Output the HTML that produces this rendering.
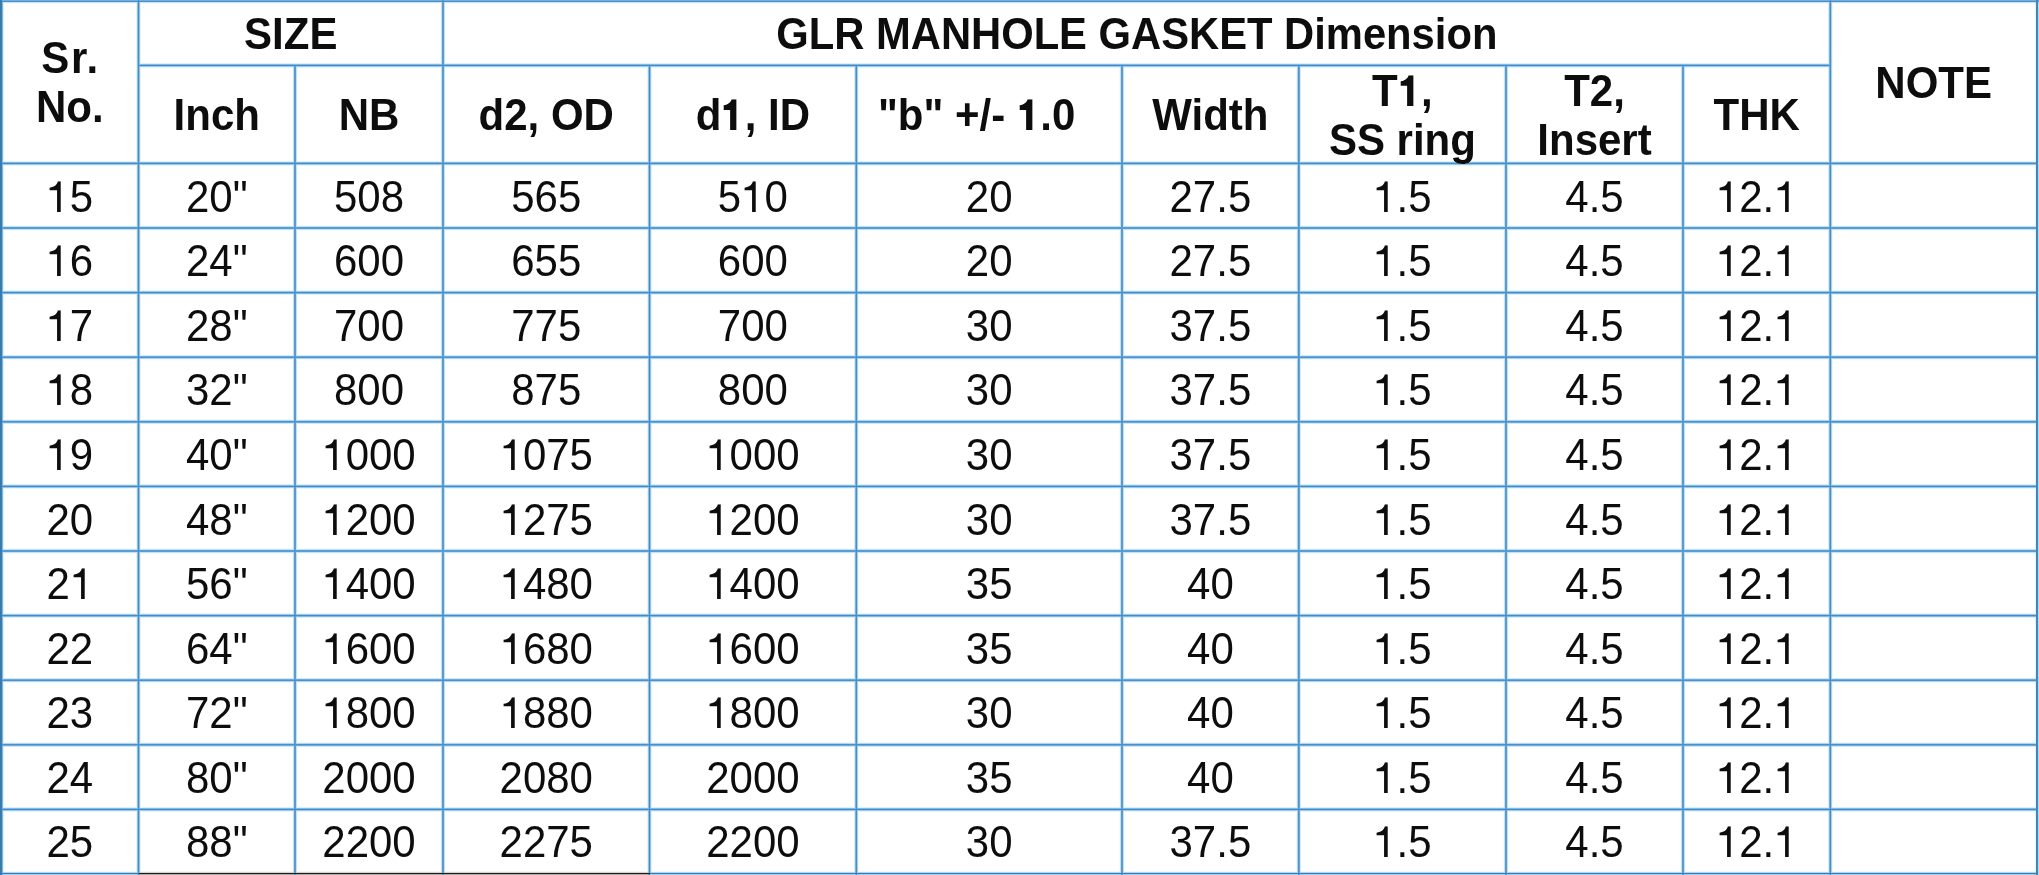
<!DOCTYPE html>
<html><head><meta charset="utf-8"><title>GLR Manhole Gasket Dimension</title><style>
html,body{margin:0;padding:0;background:#fff;}
body{width:2039px;height:875px;position:relative;overflow:hidden;font-family:"Liberation Sans",sans-serif;color:#0d0d0d;}
i{position:absolute;display:block;mix-blend-mode:darken;}
.c{position:absolute;display:flex;align-items:center;justify-content:center;text-align:center;font-size:42px;line-height:1;white-space:nowrap;}
.c span{display:block;transform:scaleY(1.045);}
.b{font-weight:bold;}
.o{width:0.55615em;height:0.7em;vertical-align:-0.012em;fill:currentColor;overflow:visible;}
.two{line-height:47px;}
.c span.sr{display:inline;transform:none;letter-spacing:1.6px;margin-right:-1.6px;}
.glr span{transform:scale(0.9937,1.045);}
</style></head><body>
<svg width="0" height="0" style="position:absolute"><defs>
<path id="p-one-r" d="M540 1409L718 1409L718 0L578 0C545 140 420 275 175 290L175 405L540 405Z"/>
<path id="p-one-b" d="M445 1409L750 1409L750 0L520 0C480 125 360 254 132 269L132 484L445 484Z"/>
<symbol id="one-r" viewBox="0 0 1139 1409" preserveAspectRatio="none"><use href="#p-one-r"/></symbol>
<symbol id="one-b" viewBox="0 0 1139 1409" preserveAspectRatio="none"><use href="#p-one-b"/></symbol>
</defs></svg>
<div class="c b two" style="left:1.1px;top:0.9px;width:137.4px;height:162.5px"><span><span class="sr">Sr.</span><br>No.</span></div>
<div class="c b" style="left:138.5px;top:1.3px;width:304.5px;height:64.5px"><span>SIZE</span></div>
<div class="c b glr" style="left:443.0px;top:1.3px;width:1387.3px;height:64.5px"><span>GLR MANHOLE GASKET Dimension</span></div>
<div class="c b" style="left:1830.3px;top:1.9px;width:206.8px;height:162.5px"><span>NOTE</span></div>
<div class="c b" style="left:138.5px;top:66.4px;width:156.5px;height:98.0px"><span>Inch</span></div>
<div class="c b" style="left:295.0px;top:66.4px;width:148.0px;height:98.0px"><span>NB</span></div>
<div class="c b" style="left:443.0px;top:66.4px;width:206.5px;height:98.0px"><span>d2, OD</span></div>
<div class="c b" style="left:649.5px;top:66.4px;width:206.8px;height:98.0px"><span>d<svg class="o"><use href="#one-b"/></svg>, ID</span></div>
<div class="c b" style="left:843.8px;top:66.4px;width:265.7px;height:98.0px"><span>"b" +/- <svg class="o"><use href="#one-b"/></svg>.0</span></div>
<div class="c b" style="left:1122.0px;top:66.4px;width:176.8px;height:98.0px"><span>Width</span></div>
<div class="c b two" style="left:1298.8px;top:66.4px;width:207.2px;height:98.0px"><span>T<svg class="o"><use href="#one-b"/></svg>,<br>SS ring</span></div>
<div class="c b two" style="left:1506.0px;top:66.4px;width:177.0px;height:98.0px"><span>T2,<br>Insert</span></div>
<div class="c b" style="left:1683.0px;top:66.4px;width:147.3px;height:98.0px"><span>THK</span></div>
<div class="c" style="left:1.1px;top:164.4px;width:137.4px;height:64.6px"><span><svg class="o"><use href="#one-r"/></svg>5</span></div>
<div class="c" style="left:138.5px;top:164.4px;width:156.5px;height:64.6px"><span>20"</span></div>
<div class="c" style="left:295.0px;top:164.4px;width:148.0px;height:64.6px"><span>508</span></div>
<div class="c" style="left:443.0px;top:164.4px;width:206.5px;height:64.6px"><span>565</span></div>
<div class="c" style="left:649.5px;top:164.4px;width:206.8px;height:64.6px"><span>5<svg class="o"><use href="#one-r"/></svg>0</span></div>
<div class="c" style="left:856.3px;top:164.4px;width:265.7px;height:64.6px"><span>20</span></div>
<div class="c" style="left:1122.0px;top:164.4px;width:176.8px;height:64.6px"><span>27.5</span></div>
<div class="c" style="left:1298.8px;top:164.4px;width:207.2px;height:64.6px"><span><svg class="o"><use href="#one-r"/></svg>.5</span></div>
<div class="c" style="left:1506.0px;top:164.4px;width:177.0px;height:64.6px"><span>4.5</span></div>
<div class="c" style="left:1683.0px;top:164.4px;width:147.3px;height:64.6px"><span><svg class="o"><use href="#one-r"/></svg>2.<svg class="o"><use href="#one-r"/></svg></span></div>
<div class="c" style="left:1.1px;top:229.0px;width:137.4px;height:64.6px"><span><svg class="o"><use href="#one-r"/></svg>6</span></div>
<div class="c" style="left:138.5px;top:229.0px;width:156.5px;height:64.6px"><span>24"</span></div>
<div class="c" style="left:295.0px;top:229.0px;width:148.0px;height:64.6px"><span>600</span></div>
<div class="c" style="left:443.0px;top:229.0px;width:206.5px;height:64.6px"><span>655</span></div>
<div class="c" style="left:649.5px;top:229.0px;width:206.8px;height:64.6px"><span>600</span></div>
<div class="c" style="left:856.3px;top:229.0px;width:265.7px;height:64.6px"><span>20</span></div>
<div class="c" style="left:1122.0px;top:229.0px;width:176.8px;height:64.6px"><span>27.5</span></div>
<div class="c" style="left:1298.8px;top:229.0px;width:207.2px;height:64.6px"><span><svg class="o"><use href="#one-r"/></svg>.5</span></div>
<div class="c" style="left:1506.0px;top:229.0px;width:177.0px;height:64.6px"><span>4.5</span></div>
<div class="c" style="left:1683.0px;top:229.0px;width:147.3px;height:64.6px"><span><svg class="o"><use href="#one-r"/></svg>2.<svg class="o"><use href="#one-r"/></svg></span></div>
<div class="c" style="left:1.1px;top:293.6px;width:137.4px;height:64.6px"><span><svg class="o"><use href="#one-r"/></svg>7</span></div>
<div class="c" style="left:138.5px;top:293.6px;width:156.5px;height:64.6px"><span>28"</span></div>
<div class="c" style="left:295.0px;top:293.6px;width:148.0px;height:64.6px"><span>700</span></div>
<div class="c" style="left:443.0px;top:293.6px;width:206.5px;height:64.6px"><span>775</span></div>
<div class="c" style="left:649.5px;top:293.6px;width:206.8px;height:64.6px"><span>700</span></div>
<div class="c" style="left:856.3px;top:293.6px;width:265.7px;height:64.6px"><span>30</span></div>
<div class="c" style="left:1122.0px;top:293.6px;width:176.8px;height:64.6px"><span>37.5</span></div>
<div class="c" style="left:1298.8px;top:293.6px;width:207.2px;height:64.6px"><span><svg class="o"><use href="#one-r"/></svg>.5</span></div>
<div class="c" style="left:1506.0px;top:293.6px;width:177.0px;height:64.6px"><span>4.5</span></div>
<div class="c" style="left:1683.0px;top:293.6px;width:147.3px;height:64.6px"><span><svg class="o"><use href="#one-r"/></svg>2.<svg class="o"><use href="#one-r"/></svg></span></div>
<div class="c" style="left:1.1px;top:358.2px;width:137.4px;height:64.6px"><span><svg class="o"><use href="#one-r"/></svg>8</span></div>
<div class="c" style="left:138.5px;top:358.2px;width:156.5px;height:64.6px"><span>32"</span></div>
<div class="c" style="left:295.0px;top:358.2px;width:148.0px;height:64.6px"><span>800</span></div>
<div class="c" style="left:443.0px;top:358.2px;width:206.5px;height:64.6px"><span>875</span></div>
<div class="c" style="left:649.5px;top:358.2px;width:206.8px;height:64.6px"><span>800</span></div>
<div class="c" style="left:856.3px;top:358.2px;width:265.7px;height:64.6px"><span>30</span></div>
<div class="c" style="left:1122.0px;top:358.2px;width:176.8px;height:64.6px"><span>37.5</span></div>
<div class="c" style="left:1298.8px;top:358.2px;width:207.2px;height:64.6px"><span><svg class="o"><use href="#one-r"/></svg>.5</span></div>
<div class="c" style="left:1506.0px;top:358.2px;width:177.0px;height:64.6px"><span>4.5</span></div>
<div class="c" style="left:1683.0px;top:358.2px;width:147.3px;height:64.6px"><span><svg class="o"><use href="#one-r"/></svg>2.<svg class="o"><use href="#one-r"/></svg></span></div>
<div class="c" style="left:1.1px;top:422.8px;width:137.4px;height:64.6px"><span><svg class="o"><use href="#one-r"/></svg>9</span></div>
<div class="c" style="left:138.5px;top:422.8px;width:156.5px;height:64.6px"><span>40"</span></div>
<div class="c" style="left:295.0px;top:422.8px;width:148.0px;height:64.6px"><span><svg class="o"><use href="#one-r"/></svg>000</span></div>
<div class="c" style="left:443.0px;top:422.8px;width:206.5px;height:64.6px"><span><svg class="o"><use href="#one-r"/></svg>075</span></div>
<div class="c" style="left:649.5px;top:422.8px;width:206.8px;height:64.6px"><span><svg class="o"><use href="#one-r"/></svg>000</span></div>
<div class="c" style="left:856.3px;top:422.8px;width:265.7px;height:64.6px"><span>30</span></div>
<div class="c" style="left:1122.0px;top:422.8px;width:176.8px;height:64.6px"><span>37.5</span></div>
<div class="c" style="left:1298.8px;top:422.8px;width:207.2px;height:64.6px"><span><svg class="o"><use href="#one-r"/></svg>.5</span></div>
<div class="c" style="left:1506.0px;top:422.8px;width:177.0px;height:64.6px"><span>4.5</span></div>
<div class="c" style="left:1683.0px;top:422.8px;width:147.3px;height:64.6px"><span><svg class="o"><use href="#one-r"/></svg>2.<svg class="o"><use href="#one-r"/></svg></span></div>
<div class="c" style="left:1.1px;top:487.4px;width:137.4px;height:64.6px"><span>20</span></div>
<div class="c" style="left:138.5px;top:487.4px;width:156.5px;height:64.6px"><span>48"</span></div>
<div class="c" style="left:295.0px;top:487.4px;width:148.0px;height:64.6px"><span><svg class="o"><use href="#one-r"/></svg>200</span></div>
<div class="c" style="left:443.0px;top:487.4px;width:206.5px;height:64.6px"><span><svg class="o"><use href="#one-r"/></svg>275</span></div>
<div class="c" style="left:649.5px;top:487.4px;width:206.8px;height:64.6px"><span><svg class="o"><use href="#one-r"/></svg>200</span></div>
<div class="c" style="left:856.3px;top:487.4px;width:265.7px;height:64.6px"><span>30</span></div>
<div class="c" style="left:1122.0px;top:487.4px;width:176.8px;height:64.6px"><span>37.5</span></div>
<div class="c" style="left:1298.8px;top:487.4px;width:207.2px;height:64.6px"><span><svg class="o"><use href="#one-r"/></svg>.5</span></div>
<div class="c" style="left:1506.0px;top:487.4px;width:177.0px;height:64.6px"><span>4.5</span></div>
<div class="c" style="left:1683.0px;top:487.4px;width:147.3px;height:64.6px"><span><svg class="o"><use href="#one-r"/></svg>2.<svg class="o"><use href="#one-r"/></svg></span></div>
<div class="c" style="left:1.1px;top:552.0px;width:137.4px;height:64.6px"><span>2<svg class="o"><use href="#one-r"/></svg></span></div>
<div class="c" style="left:138.5px;top:552.0px;width:156.5px;height:64.6px"><span>56"</span></div>
<div class="c" style="left:295.0px;top:552.0px;width:148.0px;height:64.6px"><span><svg class="o"><use href="#one-r"/></svg>400</span></div>
<div class="c" style="left:443.0px;top:552.0px;width:206.5px;height:64.6px"><span><svg class="o"><use href="#one-r"/></svg>480</span></div>
<div class="c" style="left:649.5px;top:552.0px;width:206.8px;height:64.6px"><span><svg class="o"><use href="#one-r"/></svg>400</span></div>
<div class="c" style="left:856.3px;top:552.0px;width:265.7px;height:64.6px"><span>35</span></div>
<div class="c" style="left:1122.0px;top:552.0px;width:176.8px;height:64.6px"><span>40</span></div>
<div class="c" style="left:1298.8px;top:552.0px;width:207.2px;height:64.6px"><span><svg class="o"><use href="#one-r"/></svg>.5</span></div>
<div class="c" style="left:1506.0px;top:552.0px;width:177.0px;height:64.6px"><span>4.5</span></div>
<div class="c" style="left:1683.0px;top:552.0px;width:147.3px;height:64.6px"><span><svg class="o"><use href="#one-r"/></svg>2.<svg class="o"><use href="#one-r"/></svg></span></div>
<div class="c" style="left:1.1px;top:616.6px;width:137.4px;height:64.6px"><span>22</span></div>
<div class="c" style="left:138.5px;top:616.6px;width:156.5px;height:64.6px"><span>64"</span></div>
<div class="c" style="left:295.0px;top:616.6px;width:148.0px;height:64.6px"><span><svg class="o"><use href="#one-r"/></svg>600</span></div>
<div class="c" style="left:443.0px;top:616.6px;width:206.5px;height:64.6px"><span><svg class="o"><use href="#one-r"/></svg>680</span></div>
<div class="c" style="left:649.5px;top:616.6px;width:206.8px;height:64.6px"><span><svg class="o"><use href="#one-r"/></svg>600</span></div>
<div class="c" style="left:856.3px;top:616.6px;width:265.7px;height:64.6px"><span>35</span></div>
<div class="c" style="left:1122.0px;top:616.6px;width:176.8px;height:64.6px"><span>40</span></div>
<div class="c" style="left:1298.8px;top:616.6px;width:207.2px;height:64.6px"><span><svg class="o"><use href="#one-r"/></svg>.5</span></div>
<div class="c" style="left:1506.0px;top:616.6px;width:177.0px;height:64.6px"><span>4.5</span></div>
<div class="c" style="left:1683.0px;top:616.6px;width:147.3px;height:64.6px"><span><svg class="o"><use href="#one-r"/></svg>2.<svg class="o"><use href="#one-r"/></svg></span></div>
<div class="c" style="left:1.1px;top:681.2px;width:137.4px;height:64.6px"><span>23</span></div>
<div class="c" style="left:138.5px;top:681.2px;width:156.5px;height:64.6px"><span>72"</span></div>
<div class="c" style="left:295.0px;top:681.2px;width:148.0px;height:64.6px"><span><svg class="o"><use href="#one-r"/></svg>800</span></div>
<div class="c" style="left:443.0px;top:681.2px;width:206.5px;height:64.6px"><span><svg class="o"><use href="#one-r"/></svg>880</span></div>
<div class="c" style="left:649.5px;top:681.2px;width:206.8px;height:64.6px"><span><svg class="o"><use href="#one-r"/></svg>800</span></div>
<div class="c" style="left:856.3px;top:681.2px;width:265.7px;height:64.6px"><span>30</span></div>
<div class="c" style="left:1122.0px;top:681.2px;width:176.8px;height:64.6px"><span>40</span></div>
<div class="c" style="left:1298.8px;top:681.2px;width:207.2px;height:64.6px"><span><svg class="o"><use href="#one-r"/></svg>.5</span></div>
<div class="c" style="left:1506.0px;top:681.2px;width:177.0px;height:64.6px"><span>4.5</span></div>
<div class="c" style="left:1683.0px;top:681.2px;width:147.3px;height:64.6px"><span><svg class="o"><use href="#one-r"/></svg>2.<svg class="o"><use href="#one-r"/></svg></span></div>
<div class="c" style="left:1.1px;top:745.8px;width:137.4px;height:64.6px"><span>24</span></div>
<div class="c" style="left:138.5px;top:745.8px;width:156.5px;height:64.6px"><span>80"</span></div>
<div class="c" style="left:295.0px;top:745.8px;width:148.0px;height:64.6px"><span>2000</span></div>
<div class="c" style="left:443.0px;top:745.8px;width:206.5px;height:64.6px"><span>2080</span></div>
<div class="c" style="left:649.5px;top:745.8px;width:206.8px;height:64.6px"><span>2000</span></div>
<div class="c" style="left:856.3px;top:745.8px;width:265.7px;height:64.6px"><span>35</span></div>
<div class="c" style="left:1122.0px;top:745.8px;width:176.8px;height:64.6px"><span>40</span></div>
<div class="c" style="left:1298.8px;top:745.8px;width:207.2px;height:64.6px"><span><svg class="o"><use href="#one-r"/></svg>.5</span></div>
<div class="c" style="left:1506.0px;top:745.8px;width:177.0px;height:64.6px"><span>4.5</span></div>
<div class="c" style="left:1683.0px;top:745.8px;width:147.3px;height:64.6px"><span><svg class="o"><use href="#one-r"/></svg>2.<svg class="o"><use href="#one-r"/></svg></span></div>
<div class="c" style="left:1.1px;top:810.4px;width:137.4px;height:64.1px"><span>25</span></div>
<div class="c" style="left:138.5px;top:810.4px;width:156.5px;height:64.1px"><span>88"</span></div>
<div class="c" style="left:295.0px;top:810.4px;width:148.0px;height:64.1px"><span>2200</span></div>
<div class="c" style="left:443.0px;top:810.4px;width:206.5px;height:64.1px"><span>2275</span></div>
<div class="c" style="left:649.5px;top:810.4px;width:206.8px;height:64.1px"><span>2200</span></div>
<div class="c" style="left:856.3px;top:810.4px;width:265.7px;height:64.1px"><span>30</span></div>
<div class="c" style="left:1122.0px;top:810.4px;width:176.8px;height:64.1px"><span>37.5</span></div>
<div class="c" style="left:1298.8px;top:810.4px;width:207.2px;height:64.1px"><span><svg class="o"><use href="#one-r"/></svg>.5</span></div>
<div class="c" style="left:1506.0px;top:810.4px;width:177.0px;height:64.1px"><span>4.5</span></div>
<div class="c" style="left:1683.0px;top:810.4px;width:147.3px;height:64.1px"><span><svg class="o"><use href="#one-r"/></svg>2.<svg class="o"><use href="#one-r"/></svg></span></div>
<i style="left:0px;top:0px;width:2039px;height:1px;background:#70b0e0"></i><i style="left:0px;top:1px;width:2039px;height:1px;background:#508cc3"></i><i style="left:0px;top:2px;width:2039px;height:1px;background:#c8e8fa"></i><i style="left:0px;top:3px;width:2039px;height:1px;background:#f0faff"></i><i style="left:138px;top:63px;width:1692px;height:1px;background:#dff0fa"></i><i style="left:138px;top:64px;width:1692px;height:1px;background:#7fbae5"></i><i style="left:138px;top:65px;width:1692px;height:1px;background:#458bca"></i><i style="left:138px;top:66px;width:1692px;height:1px;background:#94ccef"></i><i style="left:138px;top:67px;width:1692px;height:1px;background:#e9f5fc"></i><i style="left:0px;top:161px;width:2038px;height:1px;background:#dff0fa"></i><i style="left:0px;top:162px;width:2038px;height:1px;background:#7fbae5"></i><i style="left:0px;top:163px;width:2038px;height:1px;background:#458bca"></i><i style="left:0px;top:164px;width:2038px;height:1px;background:#94ccef"></i><i style="left:0px;top:165px;width:2038px;height:1px;background:#e9f5fc"></i><i style="left:0px;top:225px;width:2038px;height:1px;background:#f6fbfe"></i><i style="left:0px;top:226px;width:2038px;height:1px;background:#c0e1f6"></i><i style="left:0px;top:227px;width:2038px;height:1px;background:#599bd3"></i><i style="left:0px;top:228px;width:2038px;height:1px;background:#599bd3"></i><i style="left:0px;top:229px;width:2038px;height:1px;background:#c0e1f6"></i><i style="left:0px;top:230px;width:2038px;height:1px;background:#f6fbfe"></i><i style="left:0px;top:290px;width:2038px;height:1px;background:#e9f5fc"></i><i style="left:0px;top:291px;width:2038px;height:1px;background:#94ccef"></i><i style="left:0px;top:292px;width:2038px;height:1px;background:#458bca"></i><i style="left:0px;top:293px;width:2038px;height:1px;background:#7fbae5"></i><i style="left:0px;top:294px;width:2038px;height:1px;background:#dff0fa"></i><i style="left:0px;top:355px;width:2038px;height:1px;background:#d1e9f8"></i><i style="left:0px;top:356px;width:2038px;height:1px;background:#6baadb"></i><i style="left:0px;top:357px;width:2038px;height:1px;background:#4c91cd"></i><i style="left:0px;top:358px;width:2038px;height:1px;background:#abd7f3"></i><i style="left:0px;top:359px;width:2038px;height:1px;background:#f1f8fd"></i><i style="left:0px;top:419px;width:2038px;height:1px;background:#f1f8fd"></i><i style="left:0px;top:420px;width:2038px;height:1px;background:#abd7f3"></i><i style="left:0px;top:421px;width:2038px;height:1px;background:#4c91cd"></i><i style="left:0px;top:422px;width:2038px;height:1px;background:#6baadb"></i><i style="left:0px;top:423px;width:2038px;height:1px;background:#d1e9f8"></i><i style="left:0px;top:484px;width:2038px;height:1px;background:#dff0fa"></i><i style="left:0px;top:485px;width:2038px;height:1px;background:#7fbae5"></i><i style="left:0px;top:486px;width:2038px;height:1px;background:#458bca"></i><i style="left:0px;top:487px;width:2038px;height:1px;background:#94ccef"></i><i style="left:0px;top:488px;width:2038px;height:1px;background:#e9f5fc"></i><i style="left:0px;top:548px;width:2038px;height:1px;background:#f6fbfe"></i><i style="left:0px;top:549px;width:2038px;height:1px;background:#c0e1f6"></i><i style="left:0px;top:550px;width:2038px;height:1px;background:#599bd3"></i><i style="left:0px;top:551px;width:2038px;height:1px;background:#599bd3"></i><i style="left:0px;top:552px;width:2038px;height:1px;background:#c0e1f6"></i><i style="left:0px;top:553px;width:2038px;height:1px;background:#f6fbfe"></i><i style="left:0px;top:613px;width:2038px;height:1px;background:#e9f5fc"></i><i style="left:0px;top:614px;width:2038px;height:1px;background:#94ccef"></i><i style="left:0px;top:615px;width:2038px;height:1px;background:#458bca"></i><i style="left:0px;top:616px;width:2038px;height:1px;background:#7fbae5"></i><i style="left:0px;top:617px;width:2038px;height:1px;background:#dff0fa"></i><i style="left:0px;top:678px;width:2038px;height:1px;background:#d1e9f8"></i><i style="left:0px;top:679px;width:2038px;height:1px;background:#6baadb"></i><i style="left:0px;top:680px;width:2038px;height:1px;background:#4c91cd"></i><i style="left:0px;top:681px;width:2038px;height:1px;background:#abd7f3"></i><i style="left:0px;top:682px;width:2038px;height:1px;background:#f1f8fd"></i><i style="left:0px;top:742px;width:2038px;height:1px;background:#f1f8fd"></i><i style="left:0px;top:743px;width:2038px;height:1px;background:#abd7f3"></i><i style="left:0px;top:744px;width:2038px;height:1px;background:#4c91cd"></i><i style="left:0px;top:745px;width:2038px;height:1px;background:#6baadb"></i><i style="left:0px;top:746px;width:2038px;height:1px;background:#d1e9f8"></i><i style="left:0px;top:807px;width:2038px;height:1px;background:#dff0fa"></i><i style="left:0px;top:808px;width:2038px;height:1px;background:#7fbae5"></i><i style="left:0px;top:809px;width:2038px;height:1px;background:#458bca"></i><i style="left:0px;top:810px;width:2038px;height:1px;background:#94ccef"></i><i style="left:0px;top:811px;width:2038px;height:1px;background:#e9f5fc"></i><i style="left:0px;top:871px;width:139px;height:1px;background:#f2f9fd"></i><i style="left:0px;top:872px;width:139px;height:1px;background:#a8d8f8"></i><i style="left:0px;top:873px;width:139px;height:1px;background:#3f7aaa"></i><i style="left:0px;top:874px;width:139px;height:1px;background:#9ccff0"></i><i style="left:139px;top:871px;width:511px;height:1px;background:#f6f4f4"></i><i style="left:139px;top:872px;width:511px;height:1px;background:#d6d0cf"></i><i style="left:139px;top:873px;width:511px;height:1px;background:#1c1c1c"></i><i style="left:139px;top:874px;width:511px;height:1px;background:#aaa9a8"></i><i style="left:650px;top:871px;width:1388px;height:1px;background:#f2f9fd"></i><i style="left:650px;top:872px;width:1388px;height:1px;background:#a8d8f8"></i><i style="left:650px;top:873px;width:1388px;height:1px;background:#3f7aaa"></i><i style="left:650px;top:874px;width:1388px;height:1px;background:#9ccff0"></i><i style="left:0px;top:0px;width:1px;height:875px;background:#3a78a8"></i><i style="left:1px;top:0px;width:1px;height:875px;background:#3e7daf"></i><i style="left:2px;top:0px;width:1px;height:875px;background:#7fb5e0"></i><i style="left:3px;top:0px;width:1px;height:875px;background:#d7f5ff"></i><i style="left:2035px;top:0px;width:1px;height:875px;background:#e1f5ff"></i><i style="left:2036px;top:0px;width:1px;height:875px;background:#4682b4"></i><i style="left:2037px;top:0px;width:1px;height:875px;background:#4887b9"></i><i style="left:2038px;top:0px;width:1px;height:875px;background:#a0e0ff"></i><i style="left:136px;top:0px;width:1px;height:875px;background:#e5f2fb"></i><i style="left:137px;top:0px;width:1px;height:875px;background:#8bc3e8"></i><i style="left:138px;top:0px;width:1px;height:875px;background:#4d88bc"></i><i style="left:139px;top:0px;width:1px;height:875px;background:#8bc3e8"></i><i style="left:140px;top:0px;width:1px;height:875px;background:#e5f2fb"></i><i style="left:440px;top:0px;width:1px;height:875px;background:#f6fbfe"></i><i style="left:441px;top:0px;width:1px;height:875px;background:#c0e1f6"></i><i style="left:442px;top:0px;width:1px;height:875px;background:#5f9ac9"></i><i style="left:443px;top:0px;width:1px;height:875px;background:#5f9ac9"></i><i style="left:444px;top:0px;width:1px;height:875px;background:#c0e1f6"></i><i style="left:445px;top:0px;width:1px;height:875px;background:#f6fbfe"></i><i style="left:1828px;top:0px;width:1px;height:875px;background:#d8edf9"></i><i style="left:1829px;top:0px;width:1px;height:875px;background:#78b1db"></i><i style="left:1830px;top:0px;width:1px;height:875px;background:#508bbe"></i><i style="left:1831px;top:0px;width:1px;height:875px;background:#a0d2f1"></i><i style="left:1832px;top:0px;width:1px;height:875px;background:#eef7fd"></i><i style="left:292px;top:65px;width:1px;height:810px;background:#f6fbfe"></i><i style="left:293px;top:65px;width:1px;height:810px;background:#c0e1f6"></i><i style="left:294px;top:65px;width:1px;height:810px;background:#5f9ac9"></i><i style="left:295px;top:65px;width:1px;height:810px;background:#5f9ac9"></i><i style="left:296px;top:65px;width:1px;height:810px;background:#c0e1f6"></i><i style="left:297px;top:65px;width:1px;height:810px;background:#f6fbfe"></i><i style="left:647px;top:65px;width:1px;height:810px;background:#e5f2fb"></i><i style="left:648px;top:65px;width:1px;height:810px;background:#8bc3e8"></i><i style="left:649px;top:65px;width:1px;height:810px;background:#4d88bc"></i><i style="left:650px;top:65px;width:1px;height:810px;background:#8bc3e8"></i><i style="left:651px;top:65px;width:1px;height:810px;background:#e5f2fb"></i><i style="left:854px;top:65px;width:1px;height:810px;background:#d8edf9"></i><i style="left:855px;top:65px;width:1px;height:810px;background:#78b1db"></i><i style="left:856px;top:65px;width:1px;height:810px;background:#508bbe"></i><i style="left:857px;top:65px;width:1px;height:810px;background:#a0d2f1"></i><i style="left:858px;top:65px;width:1px;height:810px;background:#eef7fd"></i><i style="left:1119px;top:65px;width:1px;height:810px;background:#f6fbfe"></i><i style="left:1120px;top:65px;width:1px;height:810px;background:#c0e1f6"></i><i style="left:1121px;top:65px;width:1px;height:810px;background:#5f9ac9"></i><i style="left:1122px;top:65px;width:1px;height:810px;background:#5f9ac9"></i><i style="left:1123px;top:65px;width:1px;height:810px;background:#c0e1f6"></i><i style="left:1124px;top:65px;width:1px;height:810px;background:#f6fbfe"></i><i style="left:1296px;top:65px;width:1px;height:810px;background:#f1f8fd"></i><i style="left:1297px;top:65px;width:1px;height:810px;background:#abd7f3"></i><i style="left:1298px;top:65px;width:1px;height:810px;background:#548fc1"></i><i style="left:1299px;top:65px;width:1px;height:810px;background:#6fa8d5"></i><i style="left:1300px;top:65px;width:1px;height:810px;background:#d1e9f8"></i><i style="left:1503px;top:65px;width:1px;height:810px;background:#f6fbfe"></i><i style="left:1504px;top:65px;width:1px;height:810px;background:#c0e1f6"></i><i style="left:1505px;top:65px;width:1px;height:810px;background:#5f9ac9"></i><i style="left:1506px;top:65px;width:1px;height:810px;background:#5f9ac9"></i><i style="left:1507px;top:65px;width:1px;height:810px;background:#c0e1f6"></i><i style="left:1508px;top:65px;width:1px;height:810px;background:#f6fbfe"></i><i style="left:1680px;top:65px;width:1px;height:810px;background:#f6fbfe"></i><i style="left:1681px;top:65px;width:1px;height:810px;background:#c0e1f6"></i><i style="left:1682px;top:65px;width:1px;height:810px;background:#5f9ac9"></i><i style="left:1683px;top:65px;width:1px;height:810px;background:#5f9ac9"></i><i style="left:1684px;top:65px;width:1px;height:810px;background:#c0e1f6"></i><i style="left:1685px;top:65px;width:1px;height:810px;background:#f6fbfe"></i>
</body></html>
